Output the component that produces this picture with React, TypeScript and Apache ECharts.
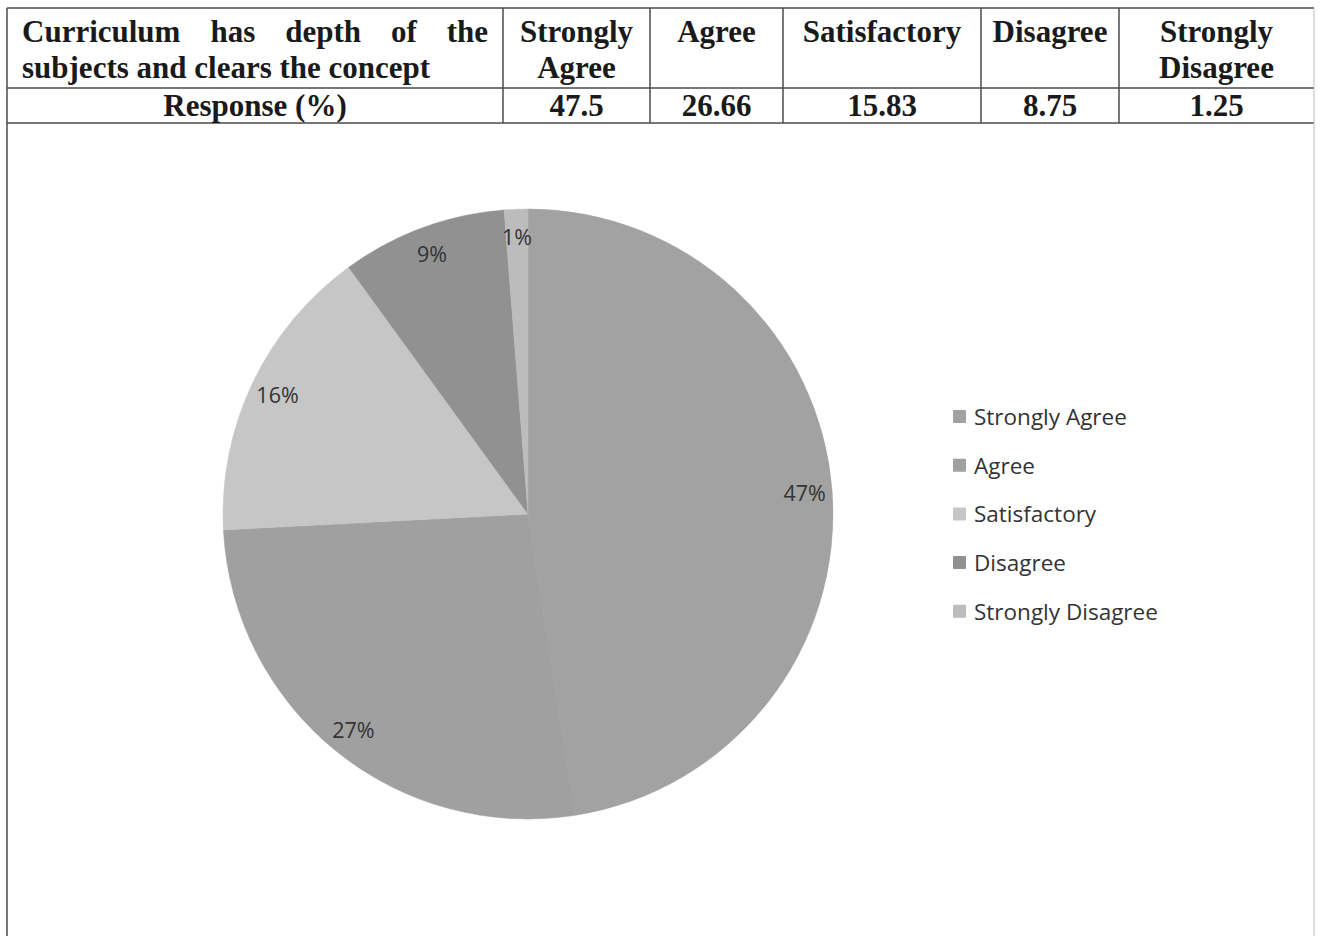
import React, { useEffect, useRef } from "react";
import * as echarts from "echarts";

const categories = ["Strongly Agree", "Agree", "Satisfactory", "Disagree", "Strongly Disagree"];
const responses = [47.5, 26.66, 15.83, 8.75, 1.25];
const pctLabels = ["47%", "27%", "16%", "9%", "1%"];
const sliceColors = ["#a2a2a2", "#a0a0a0", "#c6c6c6", "#919191", "#bcbcbc"];
const questionLines = ["Curriculum has depth of the", "subjects and clears the concept"];
const rowLabel = "Response (%)";

const W = 1320;
const H = 936;
const colX = [7, 503, 650, 783, 981, 1119, 1314];
const rowY = [8, 88, 123];
const serif = "'Liberation Serif', 'Times New Roman', serif";
const sans = "'Open Sans', 'Noto Sans', sans-serif";
const tableFont = 31;
const lineStroke = "#4a4a4a";

function measure(text: string): number {
  const c = document.createElement("canvas");
  const ctx = c.getContext("2d");
  if (!ctx) return text.length * 15;
  ctx.font = `bold ${tableFont}px ${serif}`;
  return ctx.measureText(text).width;
}

function buildTable(): any[] {
  const els: any[] = [];
  const ls = { stroke: lineStroke, lineWidth: 1.5 };
  rowY.forEach((y) => {
    els.push({ type: "line", shape: { x1: colX[0], y1: y, x2: colX[colX.length - 1], y2: y }, style: ls, silent: true });
  });
  colX.forEach((x, i) => {
    const full = i === 0 || i === colX.length - 1;
    els.push({
      type: "line",
      shape: { x1: x, y1: rowY[0], x2: x, y2: full ? H : rowY[2] },
      style: full && i === colX.length - 1 ? { stroke: "#bbbbbb", lineWidth: 1 } : ls,
      silent: true,
    });
  });
  const textStyle = (extra: any) => ({
    fill: "#1a1a1a",
    font: `bold ${tableFont}px ${serif}`,
    ...extra,
  });
  const words = questionLines[0].split(" ");
  const left = 22;
  const right = 488;
  const widths = words.map(measure);
  const total = widths.reduce((a, b) => a + b, 0);
  const gap = (right - left - total) / (words.length - 1);
  let cx = left;
  words.forEach((w, i) => {
    els.push({ type: "text", x: cx, y: 31, style: textStyle({ text: w, textAlign: "left", textVerticalAlign: "middle" }), silent: true });
    cx += widths[i] + gap;
  });
  els.push({ type: "text", x: left, y: 67, style: textStyle({ text: questionLines[1], textAlign: "left", textVerticalAlign: "middle" }), silent: true });
  els.push({ type: "text", x: (colX[0] + colX[1]) / 2, y: 105, style: textStyle({ text: rowLabel, textAlign: "center", textVerticalAlign: "middle" }), silent: true });
  categories.forEach((cat, i) => {
    const center = (colX[i + 1] + colX[i + 2]) / 2;
    const lines = cat.startsWith("Strongly") ? cat.split(" ") : [cat];
    lines.forEach((ln, j) => {
      els.push({ type: "text", x: center, y: 31 + j * 36, style: textStyle({ text: ln, textAlign: "center", textVerticalAlign: "middle" }), silent: true });
    });
    els.push({ type: "text", x: center, y: 105, style: textStyle({ text: String(responses[i]), textAlign: "center", textVerticalAlign: "middle" }), silent: true });
  });
  return els;
}

export default function App() {
  const ref = useRef<HTMLDivElement>(null);
  useEffect(() => {
    document.body.style.margin = "0";
    if (!ref.current) return;
    const chart = echarts.init(ref.current, undefined, { renderer: "svg" });
    const data = categories.map((name, i) => ({ name, value: responses[i], itemStyle: { color: sliceColors[i], borderColor: sliceColors[i] } }));
    const labelData = categories.map((name, i) => ({ name, value: responses[i] }));
    const center = [528, 514];
    const R = 305;
    chart.setOption({
      animation: false,
      backgroundColor: "#ffffff",
      legend: {
        orient: "vertical",
        left: 948,
        top: 400,
        data: categories,
        icon: "rect",
        itemWidth: 11,
        itemHeight: 11,
        itemGap: 25.7,
        selectedMode: false,
        textStyle: { fontFamily: sans, fontSize: 22.5, color: "#333333", lineHeight: 23, padding: [0, 0, 0, 4] },
      },
      graphic: buildTable(),
      series: [
        {
          type: "pie",
          center,
          radius: [0, R],
          startAngle: 90,
          clockwise: true,
          silent: true,
          label: { show: false },
          labelLine: { show: false },
          itemStyle: { borderWidth: 0.5 },
          data,
        },
        {
          type: "pie",
          center,
          radius: [244, R],
          startAngle: 90,
          clockwise: true,
          silent: true,
          legendHoverLink: false,
          itemStyle: { color: "rgba(0,0,0,0)", borderWidth: 0 },
          label: {
            show: true,
            position: "inside",
            fontFamily: sans,
            fontSize: 21.5,
            color: "#333333",
            formatter: (p: any) => pctLabels[p.dataIndex],
          },
          labelLine: { show: false },
          data: labelData,
        },
      ],
    });
    return () => chart.dispose();
  }, []);
  return <div ref={ref} style={{ width: W, height: H }} />;
}
